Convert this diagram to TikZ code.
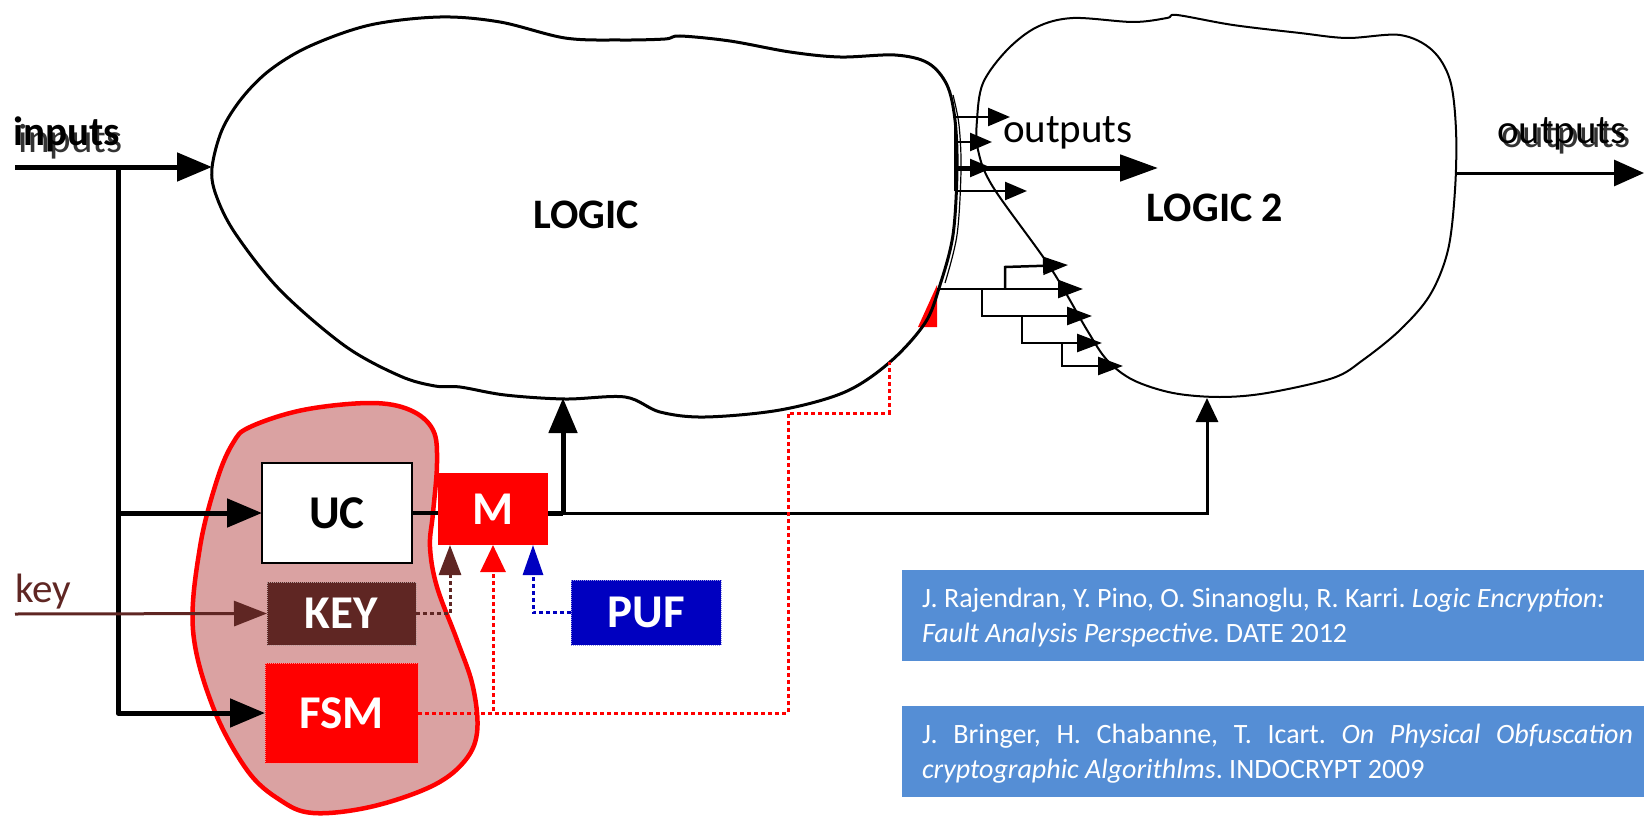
\documentclass[tikz,border=0pt]{standalone}
\usepackage{fontspec}
\setmainfont{Carlito}
\usetikzlibrary{arrows.meta}
\definecolor{keybrown}{RGB}{95,38,35}
\definecolor{pufblue}{RGB}{0,0,192}
\definecolor{citeblue}{RGB}{85,142,213}
\definecolor{blobpink}{RGB}{218,162,162}
\newcommand\boxlbl{\fontsize{47}{56}\selectfont\bfseries}
\newcommand\cloudlbl{\fontsize{42}{50}\selectfont\bfseries}
\newcommand\wirelbl{\fontsize{41}{49}\selectfont}
\newcommand\refsfont{\fontsize{28}{34}\selectfont\frenchspacing}
\begin{document}
\begin{tikzpicture}[x=1pt,y=-1pt,
  every node/.style={inner sep=0pt, outer sep=0pt},
  heavy/.style={line width=5pt},
  midwire/.style={line width=3pt},
  fanwire/.style={line width=2.5pt},
  dotwire/.style={line width=3pt, dash pattern=on 4pt off 3pt},
  bigtip/.style={-{Triangle[length=35pt,width=28pt]}},
  fantip/.style={-{Triangle[length=22pt,width=18pt]}},
  stairtip/.style={-{Triangle[length=25pt,width=18pt]}},
  solidbox/.style={minimum width=#1, text=white, font=\boxlbl},
  citebox/.style={fill=citeblue, minimum width=742, minimum height=91, anchor=north west},
  citeline/.style={anchor=base west, text=white, font=\refsfont}]
\useasboundingbox (0,0) rectangle (1644,816);

% protected block: shaded outline around UC, KEY and FSM
\filldraw[fill=blobpink, draw=red, line width=4.5pt]
  plot[smooth cycle, tension=0.6] coordinates {
  (250,427) (303,410) (370,403) (410,410) (433,430) (437,463) (433,513)
  (430,547) (437,587) (457,640) (473,687) (477,733) (463,763) (430,787)
  (370,807) (313,813) (280,800) (247,770) (213,707) (193,630) (200,547)
  (217,480) (233,443)};

% second combinational block
\draw[line width=2pt] plot[smooth cycle, tension=0.55] coordinates {
  (983,83) (1007,50) (1037,27) (1073,18) (1133,22) (1167,18) (1177,15)
  (1233,25) (1300,33) (1347,38) (1400,35) (1432,50) (1450,80) (1456,130)
  (1455,190) (1448,250) (1430,295) (1400,330) (1363,360) (1333,378)
  (1267,393) (1220,397) (1173,393) (1133,380) (1107,360) (1087,330)
  (1050,267) (993,187) (978,150) (977,120)};
\node[font=\cloudlbl] (logic2) at (1215,208) {LOGIC 2};

% red wedge on the lower right of the main block
\fill[red] (937,285) -- (937,327) -- (918,327) -- cycle;

% main combinational block
\draw[line width=3pt] plot[smooth cycle, tension=0.55] coordinates {
  (212,168) (222,130) (242,98) (270,70) (310,46) (370,25) (440,17) (500,22)
  (565,38) (620,40) (665,39) (680,36) (730,41) (790,52) (840,57)
  (895,55) (928,63) (947,85) (955,120) (957,170) (953,235) (940,285)
  (925,323) (890,362) (845,392) (780,410) (705,417) (660,412) (625,397)
  (565,399) (505,395) (460,387) (435,386) (400,376) (345,346) (280,290)
  (235,233) (216,195)};
\draw[line width=1.2pt] plot[smooth, tension=0.55] coordinates {
  (953,95) (959,125) (961,170) (957,235) (945,283)};
\node[font=\cloudlbl] (logic) at (586,215) {LOGIC};

% blocks
\node[draw=black, line width=2.5pt, fill=white, minimum width=150,
  minimum height=100, font=\boxlbl] (uc) at (337,513) {UC};
\node[solidbox=149, minimum height=63, fill=keybrown,
  draw=white!55!keybrown, densely dotted, line width=1pt] (keyb) at (341.5,613.5) {KEY};
\node[solidbox=153, minimum height=100, fill=red,
  draw=white!55!red, densely dotted, line width=1pt] (fsm) at (341.5,713) {FSM};
\node[solidbox=110, minimum height=72, fill=red] (m) at (493,509) {M};
\node[solidbox=150, minimum height=65, fill=pufblue,
  draw=white!60!pufblue, densely dotted, line width=1pt] (puf) at (646,612.5) {PUF};

% primary inputs
\coordinate (inStart) at (15,167);
\coordinate (logicW) at (212,167);
\coordinate (split) at (118,167);
\draw[heavy, bigtip] (inStart) -- (logicW);
\draw[heavy, bigtip, line join=round] (split) |- (uc.west);
\draw[heavy, bigtip, line join=round] (split) |- (fsm.west);
\node[anchor=base west, font=\wirelbl, text=black!80] (inputsB) at (19,152) {inputs};
\node[anchor=base west, font=\wirelbl\bfseries] (inputsA) at (13,145) {inputs};

% key input
\coordinate (keyStart) at (15,614);
\draw[line width=3pt, keybrown, -{Triangle[length=33pt,width=25pt]}] (keyStart) -- (keyb.west);
\node[anchor=base west, font=\wirelbl, text=keybrown] (keylbl) at (15,602) {key};

% UC -> M -> logic blocks
\coordinate (logicS) at (563,398);
\coordinate (logic2S) at (1207,398);
\draw[line width=4pt] (uc.east) -- (uc.east -| m.west);
\draw[midwire, -{Triangle[length=24pt,width=22pt]}] (uc.east -| m.east) -| (logic2S);
\draw[heavy] (uc.east -| m.east) -- (uc.east -| logicS);
\draw[heavy, bigtip] (uc.east -| logicS) -- (logicS);

% control lines into M
\draw[dotwire, keybrown, -{Triangle[length=30pt,width=22pt]}] (keyb.east) -| ([xshift=-43pt]m.south);
\draw[dotwire, red, -{Triangle[length=27pt,width=25pt]}] (fsm.east) -| (m.south);
\draw[dotwire, pufblue, -{Triangle[length=30pt,width=20pt]}] (puf.west) -| ([xshift=40pt]m.south);
\coordinate (redBend) at (788,413);
\coordinate (logicRed) at (889,362);
\draw[dotwire, red] (fsm.east) -| (redBend) -| (logicRed);

% fan-out of the main block
\coordinate (f1) at (955,117);  \coordinate (f1t) at (1010,117);
\coordinate (f2) at (955,142);  \coordinate (f2t) at (992,142);
\coordinate (f3) at (955,168);  \coordinate (f3t) at (1158,168);
\coordinate (f3s) at (992,168);
\coordinate (f4) at (955,191);  \coordinate (f4t) at (1027,191);
\draw[fanwire] (f1) -- (f4);
\draw[fanwire, fantip] (f1) -- (f1t);
\draw[fanwire, fantip] (f2) -- (f2t);
\draw[heavy, -{Triangle[length=38pt,width=26pt]}] (f3) -- (f3t);
\draw[fanwire, fantip] (f3) -- (f3s);
\draw[fanwire, fantip] (f4) -- (f4t);
\node[anchor=base west, font=\wirelbl] (outmid) at (1003,142) {outputs};

% staircase of lines into the second block
\coordinate (s0) at (937,289);   \coordinate (s0t) at (1083,289);
\coordinate (s1) at (1005,289);  \coordinate (s1b) at (1005,267);  \coordinate (s1t) at (1068,265);
\coordinate (s2) at (982,289);   \coordinate (s2b) at (982,316);   \coordinate (s2t) at (1092,316);
\coordinate (s3) at (1022,316);  \coordinate (s3b) at (1022,343);  \coordinate (s3t) at (1102,343);
\coordinate (s4) at (1062,343);  \coordinate (s4b) at (1062,366);  \coordinate (s4t) at (1123,366);
\draw[fanwire, stairtip] (s0) -- (s0t);
\draw[fanwire, stairtip] (s1) -- (s1b) -- (s1t);
\draw[fanwire, stairtip] (s2) -- (s2b) -- (s2t);
\draw[fanwire, stairtip] (s3) -- (s3b) -- (s3t);
\draw[fanwire, stairtip] (s4) -- (s4b) -- (s4t);

% outputs of the second block
\coordinate (l2E) at (1456,173);
\coordinate (outEnd) at (1644,173);
\draw[midwire, -{Triangle[length=30pt,width=26pt]}] (l2E) -- (outEnd);
\node[anchor=base west, font=\wirelbl, text=black!80] (outrB) at (1501,147) {outputs};
\node[anchor=base west, font=\wirelbl] (outrA) at (1497,143) {outputs};

% references
\node[citebox] (cite1) at (902,570) {};
\node[citeline] (c1a) at (922,607) {J. Rajendran, Y. Pino, O. Sinanoglu, R. Karri. \textit{Logic Encryption:}};
\node[citeline] (c1b) at (922,642) {\textit{Fault Analysis Perspective}. DATE 2012};
\node[citebox] (cite2) at (902,706) {};
\node[citeline] (c2a) at (922,743) {\makebox[711pt][s]{J. Bringer, H. Chabanne, T. Icart. \textit{On Physical Obfuscation}}};
\node[citeline] (c2b) at (922,778) {\textit{cryptographic Algorithlms}. INDOCRYPT 2009};
\end{tikzpicture}
\end{document}
